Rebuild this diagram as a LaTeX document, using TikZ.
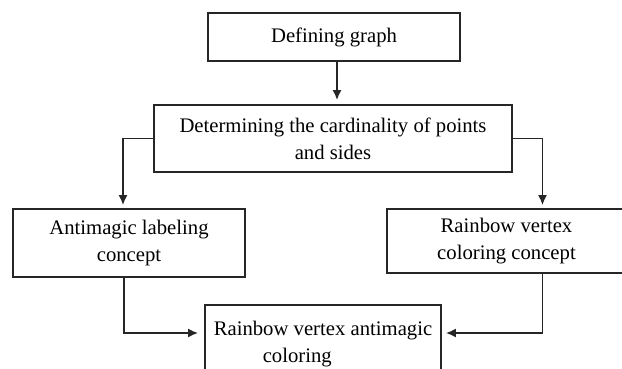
\documentclass[tikz,border=0pt]{standalone}
\usepackage{fontspec}
\setmainfont{Liberation Serif}
\usetikzlibrary{arrows.meta}
\begin{document}
\begin{tikzpicture}[x=1pt,y=-1pt,
  stepbox/.style={draw=black!85, line width=1.7pt, rectangle, inner sep=0pt,
    align=center, font=\fontsize{20.7}{27}\selectfont, text=black},
  arr/.style={draw=black!85, line width=1.8pt,
    -{Latex[length=10pt,width=9pt]}}]
\useasboundingbox (0,0) rectangle (622,369);

% process boxes
\node[stepbox, minimum width=252, minimum height=48] (b1) at (334,37) {Defining graph};
\node[stepbox, minimum width=358, minimum height=67] (b2) at (333,138.5)
  {Determining the cardinality of points\\and sides};
\node[stepbox, minimum width=232, minimum height=68] (b3) at (129,243)
  {Antimagic labeling\\concept};
\node[stepbox, minimum width=239, minimum height=64] (b4) at (506.5,241)
  {Rainbow vertex\\coloring concept};
\node[stepbox, align=left, minimum width=236, minimum height=79] (b5) at (323,344.5)
  {Rainbow vertex antimagic\\\hspace*{49pt}coloring};

% connectors
\draw[arr, shorten >=4pt] ([xshift=3pt]b1.south) -- ([xshift=3pt]b1.south |- b2.north);
\draw[arr, shorten >=3pt] (b2.west) -| ([xshift=-6pt]b3.north);
\draw[arr, shorten >=3pt] (b2.east) -| ([xshift=36pt]b4.north);
\draw[arr, shorten >=6pt] ([xshift=-5pt]b3.south) |- ([yshift=11.5pt]b5.west);
\draw[arr, shorten >=4pt] ([xshift=36pt]b4.south) |- ([yshift=11.5pt]b5.east);
\end{tikzpicture}
\end{document}
